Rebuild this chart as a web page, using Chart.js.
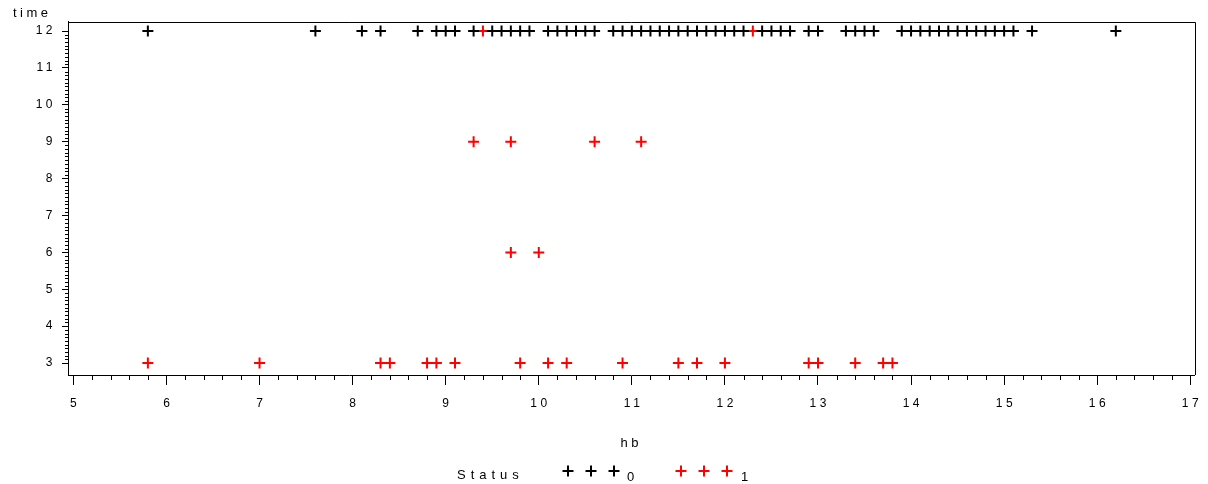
<!DOCTYPE html>
<html>
<head>
<meta charset="utf-8">
<script src="https://cdn.jsdelivr.net/npm/chart.js@4/dist/chart.umd.min.js"></script>
<style>
  html, body { margin: 0; padding: 0; background: #fff; }
  #wrap { position: relative; width: 1208px; height: 484px; }
</style>
</head>
<body>
<div id="wrap"><canvas id="chart"></canvas></div>
<script>
  // tick labels
  var xTicks = [5, 6, 7, 8, 9, 10, 11, 12, 13, 14, 15, 16, 17];
  var yTicks = [3, 4, 5, 6, 7, 8, 9, 10, 11, 12];

  // Status 0 (black)
  var hb0 = [5.8, 7.6, 8.1, 8.3, 8.7, 8.9, 9.0, 9.1, 9.3, 9.5, 9.6, 9.7, 9.8, 9.9,
    10.1, 10.2, 10.3, 10.4, 10.5, 10.6, 10.8, 10.9, 11.0, 11.1, 11.2, 11.3, 11.4,
    11.5, 11.6, 11.7, 11.8, 11.9, 12.0, 12.1, 12.2, 12.4, 12.5, 12.6, 12.7, 12.9,
    13.0, 13.3, 13.4, 13.5, 13.6, 13.9, 14.0, 14.1, 14.2, 14.3, 14.4, 14.5, 14.6,
    14.7, 14.8, 14.9, 15.0, 15.1, 15.3, 16.2];
  var time0 = hb0.map(function () { return 12; });

  // Status 1 (red)
  var hb1 = [9.4, 12.3,
    9.3, 9.7, 10.6, 11.1,
    9.7, 10.0,
    5.8, 7.0, 8.3, 8.4, 8.8, 8.9, 9.1, 9.8, 10.1, 10.3, 10.9, 11.5, 11.7, 12.0,
    12.9, 13.0, 13.4, 13.7, 13.8];
  var time1 = [12, 12,
    9, 9, 9, 9,
    6, 6,
    3, 3, 3, 3, 3, 3, 3, 3, 3, 3, 3, 3, 3, 3, 3, 3, 3, 3, 3];

  var X_MINOR = 5;   // minor intervals per unit on hb
  var Y_MINOR = 10;  // minor intervals per unit on time
  var FONT = "'Liberation Sans', Arial, sans-serif";

  function toPoints(xs, ys) {
    return xs.map(function (x, i) { return { x: x, y: ys[i] }; });
  }

  var spacing = {
    id: "spacing",
    beforeDraw: function (chart) { chart.ctx.letterSpacing = "3.5px"; }
  };

  var frame = {
    id: "frame",
    afterDraw: function (chart) {
      var a = chart.chartArea, ctx = chart.ctx;
      ctx.save();
      ctx.strokeStyle = "#000";
      ctx.lineWidth = 1;
      ctx.beginPath();
      ctx.moveTo(a.left, Math.round(a.top) + 0.5);
      ctx.lineTo(Math.round(a.right) + 0.5, Math.round(a.top) + 0.5);
      ctx.lineTo(Math.round(a.right) + 0.5, a.bottom);
      ctx.stroke();
      ctx.restore();
    }
  };

  var minorTicks = {
    id: "minorTicks",
    afterDraw: function (chart) {
      var ctx = chart.ctx, a = chart.chartArea;
      var xs = chart.scales.x, ys = chart.scales.y;
      ctx.save();
      ctx.strokeStyle = "#000";
      ctx.lineWidth = 1;
      ctx.beginPath();
      for (var i = 0; i < xTicks.length - 1; i++) {
        for (var k = 1; k < X_MINOR; k++) {
          var px = Math.round(xs.getPixelForValue(xTicks[i] + k / X_MINOR)) + 0.5;
          ctx.moveTo(px, a.bottom);
          ctx.lineTo(px, a.bottom + 5);
        }
      }
      for (var j = 0; j < yTicks.length - 1; j++) {
        for (var m = 1; m < Y_MINOR; m++) {
          var py = Math.round(ys.getPixelForValue(yTicks[j] + m / Y_MINOR)) + 0.5;
          ctx.moveTo(a.left - 3, py);
          ctx.lineTo(a.left, py);
        }
      }
      ctx.stroke();
      ctx.restore();
    }
  };

  function cross(ctx, x, y, color) {
    ctx.strokeStyle = color;
    ctx.lineWidth = 2;
    ctx.beginPath();
    ctx.moveTo(x - 5.5, y);
    ctx.lineTo(x + 5.5, y);
    ctx.moveTo(x, y - 5.5);
    ctx.lineTo(x, y + 5.5);
    ctx.stroke();
  }

  var statusLegend = {
    id: "statusLegend",
    afterDraw: function (chart) {
      var ctx = chart.ctx;
      ctx.save();
      ctx.letterSpacing = "5px";
      ctx.fillStyle = "#000";
      ctx.font = "13px " + FONT;
      ctx.textBaseline = "middle";
      ctx.textAlign = "left";
      ctx.fillText("Status", 457, 475);
      [568, 591, 614].forEach(function (x) { cross(ctx, x, 471, "#000"); });
      ctx.fillStyle = "#000";
      ctx.fillText("0", 627, 477);
      [681, 704, 727].forEach(function (x) { cross(ctx, x, 471, "#ff0000"); });
      ctx.fillStyle = "#000";
      ctx.fillText("1", 741, 477);
      ctx.restore();
    }
  };

  var pointStyle = {
    pointStyle: "cross",
    pointRadius: 5.5,
    pointHoverRadius: 5.5,
    pointBorderWidth: 2,
    pointHoverBorderWidth: 2,
    showLine: false
  };

  new Chart(document.getElementById("chart"), {
    type: "scatter",
    data: {
      datasets: [
        Object.assign({
          label: "0",
          data: toPoints(hb0, time0),
          borderColor: "#000",
          backgroundColor: "#000"
        }, pointStyle),
        Object.assign({
          label: "1",
          data: toPoints(hb1, time1),
          borderColor: "#ff0000",
          backgroundColor: "#ff0000"
        }, pointStyle)
      ]
    },
    options: {
      responsive: true,
      maintainAspectRatio: false,
      animation: false,
      layout: { padding: { left: 13, right: 11, top: 0, bottom: 33 } },
      plugins: {
        legend: { display: false },
        tooltip: { enabled: false },
        title: {
          display: true,
          text: "time",
          align: "start",
          color: "#000",
          font: { family: FONT, size: 13, weight: "normal" },
          padding: { top: 6, bottom: 0 }
        }
      },
      scales: {
        x: {
          type: "linear",
          min: 4.942,
          max: 17.047,
          afterBuildTicks: function (s) { s.ticks = xTicks.map(function (v) { return { value: v }; }); },
          afterFit: function (s) { s.height = 76; },
          ticks: { color: "#000", font: { family: FONT, size: 12 }, padding: 11, labelOffset: 1.75, maxRotation: 0, autoSkip: false },
          grid: { drawOnChartArea: false, drawTicks: true, tickLength: 10, tickColor: "#000", tickWidth: 1 },
          border: { display: true, color: "#000", width: 1 },
          title: {
            display: true,
            text: "hb",
            color: "#000",
            font: { family: FONT, size: 13 },
            padding: { top: 0, bottom: 0 }
          }
        },
        y: {
          type: "linear",
          min: 2.676,
          max: 12.256,
          afterBuildTicks: function (s) { s.ticks = yTicks.map(function (v) { return { value: v }; }); },
          afterFit: function (s) { s.width = 55; },
          ticks: { color: "#000", font: { family: FONT, size: 12 }, padding: 6, autoSkip: false },
          grid: { drawOnChartArea: false, drawTicks: true, tickLength: 6, tickColor: "#000", tickWidth: 1 },
          border: { display: true, color: "#000", width: 1 }
        }
      }
    },
    plugins: [spacing, frame, minorTicks, statusLegend]
  });
</script>
</body>
</html>
